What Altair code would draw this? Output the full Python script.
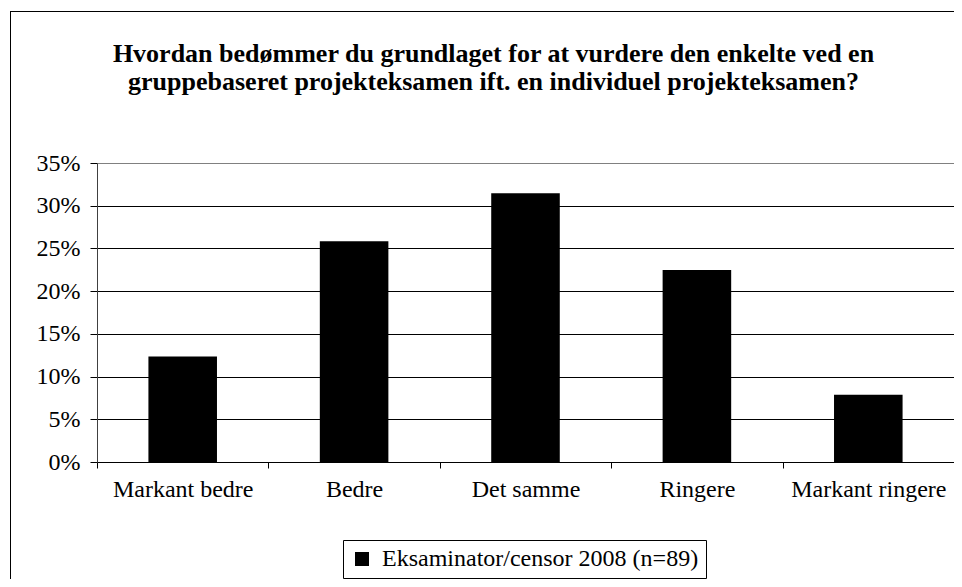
import altair as alt
import pandas as pd

categories = ["Markant bedre", "Bedre", "Det samme", "Ringere", "Markant ringere"]
shares = [0.1236, 0.2584, 0.3146, 0.2247, 0.0787]
series_name = "Eksaminator/censor 2008 (n=89)"
title_lines = [
    "Hvordan bedømmer du grundlaget for at vurdere den enkelte ved en",
    "gruppebaseret projekteksamen ift. en individuel projekteksamen?",
]

df = pd.DataFrame({"kategori": categories, "andel": shares, "serie": [series_name] * len(categories)})

FONT = "Liberation Serif"

base = alt.Chart(df)

bars = base.mark_bar(width=alt.RelativeBandSize(0.4), color="black").encode(
    x=alt.X(
        "kategori:N",
        sort=categories,
        scale=alt.Scale(paddingInner=0, paddingOuter=0),
        axis=alt.Axis(
            title=None,
            labelAngle=0,
            labelFont=FONT,
            labelFontSize=24,
            labelColor="black",
            labelBaseline="alphabetic",
            labelPadding=28,
            labelLimit=400,
            tickBand="extent",
            tickSize=6,
            tickColor="black",
            domainColor="black",
            grid=False,
        ),
    ),
    y=alt.Y(
        "andel:Q",
        scale=alt.Scale(domain=[0, 0.35], nice=False),
        axis=alt.Axis(
            title=None,
            format=".0%",
            values=[0, 0.05, 0.1, 0.15, 0.2, 0.25, 0.3, 0.35],
            labelFont=FONT,
            labelFontSize=24,
            labelColor="black",
            labelPadding=10,
            tickSize=7,
            tickColor="black",
            domainColor="#404040",
            grid=True,
            gridColor=alt.condition("datum.value >= 0.35", alt.value("#808080"), alt.value("black")),
            gridWidth=1,
        ),
    ),
    color=alt.Color(
        "serie:N",
        scale=alt.Scale(range=["black"]),
        legend=alt.Legend(
            title=None,
            orient="none",
            legendX=246,
            legendY=377,
            symbolType="square",
            symbolSize=196,
            symbolStrokeWidth=0,
            labelFont=FONT,
            labelFontSize=24,
            labelColor="black",
            labelOffset=8,
            labelLimit=600,
            padding=7,
            strokeColor="black",
            fillColor="white",
            cornerRadius=0,
        ),
    ),
)

frame_src = alt.Chart(pd.DataFrame({"f": [1]}))
frame_left = frame_src.mark_rule(color="black", strokeWidth=1).encode(
    x=alt.value(-86.5), y=alt.value(-151.5), y2=alt.value(416)
)
frame_top = frame_src.mark_rule(color="black", strokeWidth=1).encode(
    x=alt.value(-87), x2=alt.value(857), y=alt.value(-151.5)
)

chart = alt.layer(bars, frame_left, frame_top).properties(
    width=857,
    height=299,
    autosize=alt.AutoSizeParams(type="none"),
    padding={"left": 89, "top": 155, "right": 0, "bottom": 117},
    title=alt.TitleParams(
        text=title_lines,
        font=FONT,
        fontSize=26,
        fontWeight="bold",
        color="black",
        anchor="middle",
        frame="group",
        baseline="bottom",
        lineHeight=28,
        offset=-110,
        dx=-32,
    ),
).configure_view(
    fill="#C0C0C0", stroke="#808080", strokeWidth=1
).configure(background="white")

chart.save("out.html", embed_options={"renderer": "svg", "actions": False})
